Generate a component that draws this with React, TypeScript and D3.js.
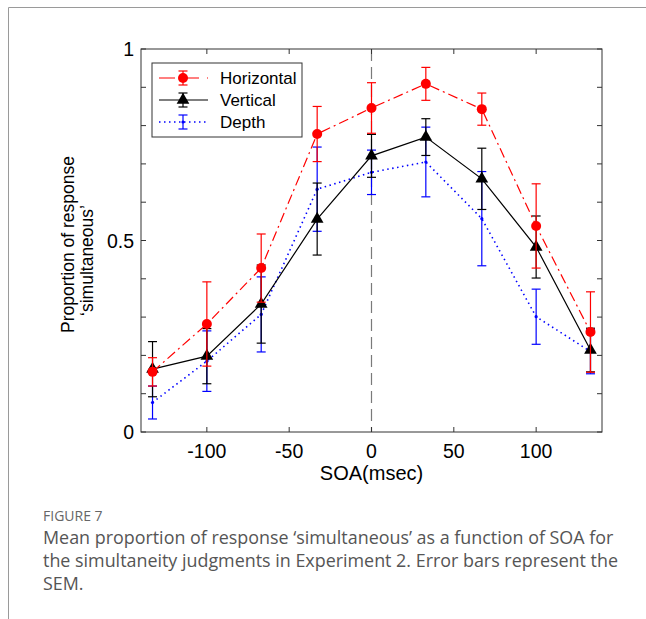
import * as d3 from 'd3';
import { useEffect, useRef } from 'react';

const soa = [-133, -100, -67, -33, 0, 33, 67, 100, 133];

const horizontalMean = [0.157, 0.282, 0.428, 0.778, 0.846, 0.909, 0.843, 0.538, 0.261];
const horizontalSem = [0.037, 0.11, 0.089, 0.072, 0.066, 0.043, 0.042, 0.11, 0.105];

const verticalMean = [0.164, 0.198, 0.334, 0.556, 0.721, 0.77, 0.661, 0.483, 0.214];
const verticalSem = [0.072, 0.072, 0.102, 0.094, 0.056, 0.048, 0.08, 0.081, 0.057];

const depthMean = [0.077, 0.185, 0.307, 0.634, 0.678, 0.705, 0.557, 0.301, 0.21];
const depthSem = [0.043, 0.079, 0.098, 0.11, 0.058, 0.091, 0.123, 0.072, 0.058];

const xTicks = [-100, -50, 0, 50, 100];
const yTicks = [0, 0.1, 0.2, 0.3, 0.4, 0.5, 0.6, 0.7, 0.8, 0.9, 1];
const yLabels = [0, 0.5, 1];

const captionLines = [
  'Mean proportion of response \u2018simultaneous\u2019 as a function of SOA for',
  'the simultaneity judgments in Experiment 2. Error bars represent the',
  'SEM.',
];

const App = () => {
  const svgRef = useRef(null);

  useEffect(() => {
    const svg = d3.select(svgRef.current);
    svg.selectAll('*').remove();

    const margin = { top: 49, right: 44, bottom: 187, left: 141 };
    const width = 646 - margin.left - margin.right;
    const height = 619 - margin.top - margin.bottom;
    const font = '"Liberation Sans", Arial, sans-serif';

    // page frame
    svg.append('path')
      .attr('d', 'M8.5,619 V7.5 H646')
      .attr('fill', 'none')
      .attr('stroke', '#9a9a9a')
      .attr('stroke-width', 1);

    const g = svg.append('g').attr('transform', `translate(${margin.left},${margin.top})`);

    const x = d3.scaleLinear().domain([-140, 140]).range([0, width]);
    const y = d3.scaleLinear().domain([0, 1]).range([height, 0]);

    // zero line
    g.append('line')
      .attr('x1', x(0)).attr('x2', x(0))
      .attr('y1', 0).attr('y2', height)
      .attr('stroke', '#7a7a7a')
      .attr('stroke-width', 1.2)
      .attr('stroke-dasharray', '12,6');

    // axes box
    g.append('rect')
      .attr('width', width).attr('height', height)
      .attr('fill', 'none')
      .attr('stroke', '#333')
      .attr('stroke-width', 1);

    const tick = 5;
    xTicks.forEach(t => {
      g.append('line').attr('x1', x(t)).attr('x2', x(t)).attr('y1', height).attr('y2', height - tick).attr('stroke', '#333');
      g.append('line').attr('x1', x(t)).attr('x2', x(t)).attr('y1', 0).attr('y2', tick).attr('stroke', '#333');
      g.append('text')
        .attr('x', x(t)).attr('y', height + 26)
        .attr('text-anchor', 'middle')
        .attr('font-family', font).attr('font-size', 19.5)
        .text(t);
    });
    yTicks.forEach(t => {
      g.append('line').attr('x1', 0).attr('x2', tick).attr('y1', y(t)).attr('y2', y(t)).attr('stroke', '#333');
      g.append('line').attr('x1', width).attr('x2', width - tick).attr('y1', y(t)).attr('y2', y(t)).attr('stroke', '#333');
    });
    yLabels.forEach(t => {
      g.append('text')
        .attr('x', -7).attr('y', y(t) + 7)
        .attr('text-anchor', 'end')
        .attr('font-family', font).attr('font-size', 19.5)
        .text(t);
    });

    g.append('text')
      .attr('x', width / 2).attr('y', height + 48)
      .attr('text-anchor', 'middle')
      .attr('font-family', font).attr('font-size', 20)
      .text('SOA(msec)');

    g.append('text')
      .attr('transform', `translate(-67,${height / 2 + 4}) rotate(-90)`)
      .attr('text-anchor', 'middle')
      .attr('font-family', font).attr('font-size', 17.5)
      .text('Proportion of response');
    g.append('text')
      .attr('transform', `translate(-48,${height / 2 + 20}) rotate(-90)`)
      .attr('text-anchor', 'middle')
      .attr('font-family', font).attr('font-size', 17.5)
      .text('\u2018simultaneous\u2019');

    const series = [
      { name: 'Horizontal', mean: horizontalMean, sem: horizontalSem, color: '#ff0000', dash: '10,4,2,4', marker: 'circle' },
      { name: 'Vertical', mean: verticalMean, sem: verticalSem, color: '#000000', dash: null, marker: 'triangle' },
      { name: 'Depth', mean: depthMean, sem: depthSem, color: '#0000ff', dash: '1.5,3.5', marker: 'dot' },
    ];

    const line = d3.line<number>()
      .x((_, i) => x(soa[i]))
      .y(d => y(d));

    const drawMarker = (sel, kind, color) => {
      if (kind === 'circle') {
        sel.append('circle').attr('r', 5).attr('fill', color);
      } else if (kind === 'triangle') {
        sel.append('path').attr('d', d3.symbol().type(d3.symbolTriangle).size(70)()).attr('fill', color);
      } else {
        sel.append('circle').attr('r', 1.6).attr('fill', color);
      }
    };

    // depth first, horizontal last
    [...series].reverse().forEach(s => {
      const sg = g.append('g');
      s.mean.forEach((m, i) => {
        const cx = x(soa[i]);
        const top = y(m + s.sem[i]);
        const bot = y(m - s.sem[i]);
        sg.append('line').attr('x1', cx).attr('x2', cx).attr('y1', top).attr('y2', bot).attr('stroke', s.color).attr('stroke-width', 1.2);
        sg.append('line').attr('x1', cx - 4.5).attr('x2', cx + 4.5).attr('y1', top).attr('y2', top).attr('stroke', s.color).attr('stroke-width', 1.2);
        sg.append('line').attr('x1', cx - 4.5).attr('x2', cx + 4.5).attr('y1', bot).attr('y2', bot).attr('stroke', s.color).attr('stroke-width', 1.2);
      });
      sg.append('path')
        .attr('d', line(s.mean))
        .attr('fill', 'none')
        .attr('stroke', s.color)
        .attr('stroke-width', s.marker === 'dot' ? 1.6 : 1.2)
        .attr('stroke-dasharray', s.dash);
      s.mean.forEach((m, i) => {
        const mg = sg.append('g').attr('transform', `translate(${x(soa[i])},${y(m)})`);
        drawMarker(mg, s.marker, s.color);
      });
    });

    // legend
    const lg = g.append('g').attr('transform', 'translate(11,14)');
    lg.append('rect')
      .attr('width', 150).attr('height', 74)
      .attr('fill', '#fff')
      .attr('stroke', '#333');
    series.forEach((s, i) => {
      const ly = 15 + i * 22;
      lg.append('line')
        .attr('x1', 7).attr('x2', 56).attr('y1', ly).attr('y2', ly)
        .attr('stroke', s.color).attr('stroke-width', s.marker === 'dot' ? 1.6 : 1.2)
        .attr('stroke-dasharray', s.marker === 'circle' ? '16,8' : s.dash);
      lg.append('line').attr('x1', 31).attr('x2', 31).attr('y1', ly - 7).attr('y2', ly + 7).attr('stroke', s.color).attr('stroke-width', 1.2);
      lg.append('line').attr('x1', 26.5).attr('x2', 35.5).attr('y1', ly - 7).attr('y2', ly - 7).attr('stroke', s.color).attr('stroke-width', 1.2);
      lg.append('line').attr('x1', 26.5).attr('x2', 35.5).attr('y1', ly + 7).attr('y2', ly + 7).attr('stroke', s.color).attr('stroke-width', 1.2);
      const mg = lg.append('g').attr('transform', `translate(31,${ly})`);
      drawMarker(mg, s.marker, s.color);
      lg.append('text')
        .attr('x', 68).attr('y', ly + 6)
        .attr('font-family', font).attr('font-size', 17)
        .text(s.name);
    });

    // caption
    svg.append('text')
      .attr('x', 43).attr('y', 521)
      .attr('font-family', '"Open Sans", sans-serif').attr('font-size', 14)
      .attr('fill', '#666')
      .text('FIGURE 7');
    captionLines.forEach((t, i) => {
      svg.append('text')
        .attr('x', 43).attr('y', 544 + i * 23)
        .attr('font-family', '"Open Sans", sans-serif').attr('font-size', 17.9)
        .attr('fill', '#555')
        .text(t);
    });
  }, []);

  return (
    <svg ref={svgRef} width={646} height={619} style={{ position: 'absolute', left: 0, top: 0 }}></svg>
  );
};

export default App;
